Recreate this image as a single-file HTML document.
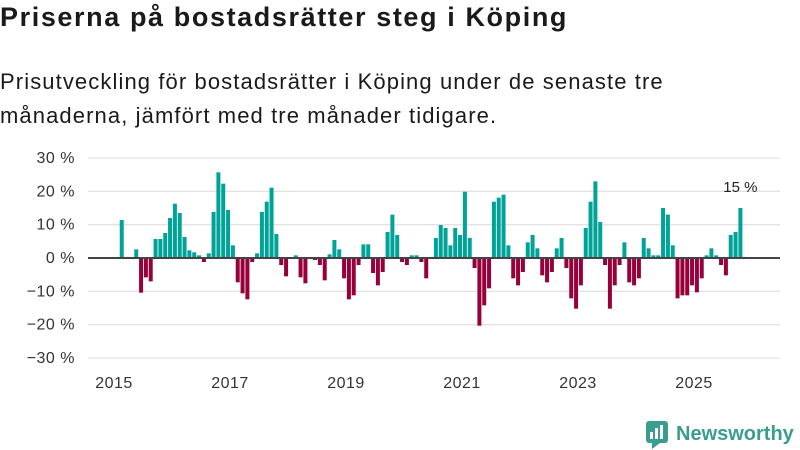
<!DOCTYPE html>
<html><head><meta charset="utf-8"><style>
body{margin:0;width:800px;height:450px;background:#fff;font-family:"Liberation Sans",sans-serif;color:#1a1a1a;overflow:hidden;position:relative}
h1{position:absolute;left:0;top:2px;margin:0;font-size:27px;font-weight:bold;letter-spacing:1.6px;white-space:nowrap}
p{position:absolute;left:0;top:65px;margin:0;font-size:22px;line-height:34px;width:680px;letter-spacing:1.1px}
svg{position:absolute;left:0;top:0}
</style></head><body>
<h1>Priserna på bostadsrätter steg i Köping</h1>
<p>Prisutveckling för bostadsrätter i Köping under de senaste tre månaderna, jämfört med tre månader tidigare.</p>
<svg id="c" width="800" height="450"></svg>
<script>
const startYear = 2015, startMonth = 1; // first bar: Feb 2015
const values = [11.4,0,0,2.6,-10.4,-5.8,-7,5.7,5.7,7.5,12,16.3,13.5,6.3,2.3,1.7,0.8,-1.2,1.4,13.8,25.7,22.3,14.4,3.8,-7.3,-10.6,-12.4,-1.2,1.4,13.8,16.9,21.1,7.2,-2.1,-5.5,0,0.8,-5.8,-7.6,0,-0.6,-2.1,-6.7,1.1,5.4,2.6,-6.1,-12.4,-11.2,-2.1,4.1,4.1,-4.5,-8.2,-4.2,7.8,13,6.9,-1.2,-2.1,0.8,0.8,-1.2,-6.1,0,6,9.9,9,3.8,9,6.9,19.9,6,-3,-20.3,-14.2,-9.1,16.9,18.1,19,3.8,-6.1,-8.2,-4.2,4.7,6.9,2.9,-5.2,-7.3,-4.2,2.9,6,-3,-12.1,-15.2,-8.2,9,16.9,23,10.8,-2.1,-15.2,-8.2,-2.1,4.7,-7.3,-8.2,-6.1,6,2.9,0.8,0.8,15,13,3.8,-12.1,-11.2,-11.2,-8.2,-10.3,-6.1,0.8,2.9,0.8,-2.1,-5.2,6.9,7.8,15];
const yTicks = [30,20,10,0,-10,-20,-30];
const xTicks = [2015,2017,2019,2021,2023,2025];
const lastLabel = "15 %";
const NS='http://www.w3.org/2000/svg', svg=document.getElementById('c');
const y = v => 258 - v*3.3333;
const x = m => 114 + m*(58/12); // m = months since Jan 2015
function el(t,a,txt){const e=document.createElementNS(NS,t);for(const k in a)e.setAttribute(k,a[k]);if(txt!=null)e.textContent=txt;svg.appendChild(e);return e;}
yTicks.forEach(t=>{
  if(t!==0){const g=el('line',{x1:88,x2:780,y1:y(t),y2:y(t),stroke:'#e3e3e3','stroke-width':1.3});
  
  }
  const l=el('text',{x:75,y:y(t)+5,'text-anchor':'end','font-size':16,'letter-spacing':0.5,fill:'#333'},(t<0?'\u2212'+(-t):t)+' %');
  
  
});
xTicks.forEach(t=>{
  const l=el('text',{x:x((t-2015)*12),y:388,'text-anchor':'middle','font-size':16,'letter-spacing':0.5,fill:'#333'},String(t));
  
  
});
values.forEach((v,i)=>{
  const m=startMonth+i, cx=x(m+0.6);
  const b=el('rect',{x:cx-2,width:4,y:Math.min(y(v),y(0)),height:Math.abs(y(v)-y(0)),fill:v>=0?'#00a398':'#98003c'});
  
  
});
const z=el('line',{x1:88,x2:780,y1:y(0),y2:y(0),stroke:'#444','stroke-width':2});


const li=values.length-1;
const ll=el('text',{x:x(startMonth+li+0.6),y:y(values[li])-16,'text-anchor':'middle','font-size':15,fill:'#222'},lastLabel);


</script>
<svg width="800" height="450">
<rect x="646" y="421" width="22" height="22" rx="3" fill="#3a9e8f"/>
<rect x="650" y="432" width="3" height="7" fill="#fff"/><rect x="655" y="428" width="3" height="11" fill="#fff"/><rect x="660" y="425" width="3" height="14" fill="#fff"/>
<polygon points="652,443 660,443 652,449" fill="#3a9e8f"/>
<text x="676" y="440" font-size="20" font-weight="bold" fill="#3a9e8f">Newsworthy</text>
</svg>
</body></html>
